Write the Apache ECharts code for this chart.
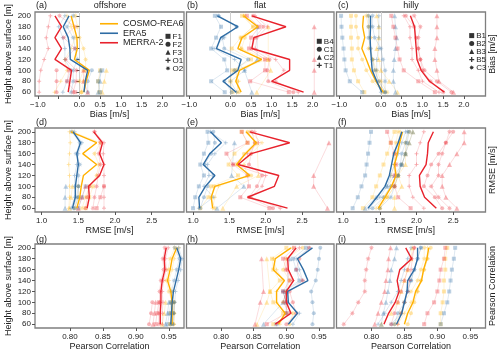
<!DOCTYPE html>
<html>
<head>
<meta charset="utf-8">
<script src="https://cdn.jsdelivr.net/npm/echarts@6/dist/echarts.min.js"></script>
<style>
  html, body { margin: 0; padding: 0; background: #fff; }
  #chart { width: 500px; height: 355px; }
</style>
</head>
<body>
<div id="chart"></div>
<script>
// heights of the profiles, bottom -> top
var heights = [60, 80, 100, 120, 140, 160, 180, 200];
var models = ['COSMO-REA6', 'ERA5', 'MERRA-2'];
var offshoreStations = ['F1', 'F2', 'F3', 'O1', 'O2'];
var flatStations = ['B4', 'C1', 'C2', 'T1'];
var hillyStations = ['B1', 'B2', 'B3', 'B5', 'C3'];
var biasTicks = [-1, -0.5, 0, 0.5, 1, 1.5, 2];
var biasLabels = [-1, 0, 0.5, 1, 1.5, 2];
var rmseTicks = [1, 1.5, 2, 2.5];
var corrTicks = [0.8, 0.85, 0.9, 0.95];

// mean profiles (60 m -> 200 m), order: COSMO-REA6, ERA5, MERRA-2
var biasOffshoreMean = [
  [0.11, 0.16, 0.24, -0.12, -0.05, -0.06, -0.13, -0.2],
  [0.11, 0.14, 0.2, -0.22, -0.23, -0.27, -0.39, -0.25],
  [-0.27, -0.23, -0.19, -0.59, -0.43, -0.59, -0.43, -0.59]
];
var biasFlatMean = [
  [0.26, 0.13, 0.22, 0.76, 0.18, 0.28, 0.67, 0.32],
  [0.14, -0.18, 0.18, 0.26, -0.34, -0.24, 0.18, -0.32],
  [1.78, 1.0, 1.44, 1.44, 0.52, 0.57, 1.35, 0.52]
];
var biasHillyMean = [
  [0.06, -0.12, -0.25, -0.35, -0.46, -0.39, -0.44, -0.42],
  [0.02, -0.1, -0.21, -0.23, -0.25, -0.26, -0.25, -0.25],
  [1.53, 1.17, 0.97, 0.87, 0.85, 0.83, 0.81, 0.71]
];
var rmseOffshoreMean = [
  [1.48, 1.52, 1.54, 1.57, 1.75, 1.56, 1.75, 1.4],
  [1.42, 1.46, 1.46, 1.48, 1.5, 1.48, 1.53, 1.43],
  [1.62, 1.65, 1.64, 1.79, 1.85, 1.79, 1.83, 1.71]
];
var rmseFlatMean = [
  [1.27, 1.25, 1.3, 1.78, 1.6, 1.72, 1.87, 1.73],
  [1.09, 1.08, 1.17, 1.3, 1.14, 1.23, 1.39, 1.24],
  [2.3, 1.75, 2.12, 2.18, 1.62, 1.8, 2.33, 1.78]
];
var rmseHillyMean = [
  [1.48, 1.57, 1.66, 1.72, 1.7, 1.74, 1.77, 1.81],
  [1.34, 1.46, 1.57, 1.63, 1.66, 1.69, 1.75, 1.8],
  [2.27, 2.11, 2.05, 2.04, 2.13, 2.15, 2.16, 2.23]
];
var corrOffshoreMean = [
  [0.955, 0.955, 0.955, 0.953, 0.948, 0.952, 0.955, 0.962],
  [0.953, 0.954, 0.955, 0.957, 0.961, 0.965, 0.968, 0.962],
  [0.937, 0.937, 0.938, 0.938, 0.94, 0.944, 0.943, 0.946]
];
var corrFlatMean = [
  [0.888, 0.898, 0.885, 0.885, 0.897, 0.88, 0.883, 0.907],
  [0.903, 0.917, 0.903, 0.902, 0.933, 0.926, 0.917, 0.94],
  [0.883, 0.907, 0.9, 0.9, 0.911, 0.903, 0.902, 0.915]
];
var corrHillyMean = [
  [0.85, 0.855, 0.863, 0.867, 0.876, 0.879, 0.884, 0.887],
  [0.838, 0.846, 0.85, 0.854, 0.855, 0.865, 0.87, 0.87],
  [0.819, 0.826, 0.836, 0.842, 0.839, 0.843, 0.861, 0.852]
];

// single stations (same order of models, stations as in the legends, null = no measurement)
var biasOffshoreStations = [
  [[0.48, 0.45, 0.5], [0.05, 0.0, 0.1], [0.55, 0.6, 0.65],
   [-0.6, -0.45, -0.3, -0.35, -0.2, -0.1, -0.2, -0.3], [0.05, 0.1, 0.15, 0.15, 0.1, 0.0, -0.05, -0.1]],
  [[0.5, 0.45, 0.55], [0.2, 0.2, 0.3], [0.45, 0.5, 0.5],
   [-0.4, -0.3, -0.2, -0.35, -0.35, -0.4, -0.5, -0.35], [-0.2, -0.15, -0.15, -0.05, -0.1, -0.15, -0.3, -0.15]],
  [[-0.1, -0.3, -0.25], [-0.55, -0.55, -0.55], [0.2, 0.1, 0.1],
   [-0.97, -0.97, -0.93, -0.85, -0.75, -0.8, -0.75, -0.7], [-0.15, -0.08, -0.07, -0.33, -0.11, -0.38, -0.11, -0.48]]
];
var biasFlatStations = [
  [[0.05, 0.0, 0.05, 0.5, 0.03, 0.25, 0.55, 0.28], [0.2, 0.16, 0.15, 0.72, 0.27, 0.35, 0.64, 0.35],
   [0.64, null, 0.98, 0.92, null, null, 0.92, null], [0.15, 0.2, 0.1, 0.9, 0.25, 0.25, 0.55, 0.32]],
  [[-0.14, -0.47, -0.08, -0.15, -0.47, -0.35, -0.23, -0.38], [0.03, -0.15, 0.1, 0.43, -0.15, -0.2, 0.15, -0.3],
   [0.52, null, 0.34, 0.65, null, null, 0.65, null], [0.15, 0.0, 0.35, 0.1, -0.4, -0.15, 0.15, -0.28]],
  [[1.42, 0.48, 0.84, 0.84, 0.45, 0.5, 0.7, 0.4], [1.53, 0.92, 0.9, 0.95, 0.52, 0.6, 0.8, 0.55],
   [2.04, null, 2.04, 2.04, null, null, 2.04, null], [1.65, 1.1, 1.3, 1.1, 0.6, 0.65, 0.9, 0.6]]
];
var biasHillyStations = [
  [[-0.4, -0.55, -0.65, -0.7, -0.7, -0.72, -0.72, -0.72], [0.05, -0.2, -0.35, -0.45, -0.55, -0.55, -0.6, -0.6],
   [0.4, 0.2, 0.0, -0.05, -0.1, -0.05, -0.05, -0.1], [0.1, -0.05, -0.15, -0.2, -0.25, -0.25, -0.25, -0.3],
   [0.15, 0.0, -0.1, -0.2, -0.3, -0.25, -0.3, -0.35]],
  [[-0.45, -0.75, -0.85, -0.88, -0.9, -0.93, -0.95, -0.96], [0.1, -0.05, -0.15, -0.2, -0.25, -0.3, -0.3, -0.3],
   [0.35, 0.3, 0.3, 0.32, 0.35, 0.38, 0.35, 0.33], [0.0, -0.1, -0.1, -0.1, -0.05, -0.05, -0.05, -0.05],
   [0.1, 0.1, 0.1, 0.05, 0.0, -0.15, -0.2, -0.2]],
  [[1.3, 0.9, 0.55, 0.45, 0.4, 0.35, 0.3, 0.25], [1.7, 1.35, 1.05, 0.95, 0.9, 0.85, 0.8, 0.6],
   [1.75, 1.4, 1.35, 1.3, 1.3, 1.35, 1.35, 1.35], [1.4, 1.0, 0.9, 0.75, 0.75, 0.7, 0.7, 0.55],
   [1.5, 1.2, 1.0, 0.95, 0.9, 0.9, 0.95, 0.8]]
];
var rmseOffshoreStations = [
  [[1.6, 1.65, 1.7], [1.45, 1.5, 1.5], [1.38, 1.4, 1.42],
   [1.37, 1.38, 1.38, 1.38, 1.37, 1.38, 1.39, 1.38], [1.55, 1.6, 1.65, 1.75, 1.78, 1.72, 1.8, 1.42]],
  [[1.5, 1.55, 1.6], [1.45, 1.5, 1.5], [1.32, 1.32, 1.33],
   [1.4, 1.45, 1.45, 1.45, 1.48, 1.5, 1.55, 1.45], [1.43, 1.48, 1.5, 1.5, 1.52, 1.47, 1.52, 1.41]],
  [[1.75, 1.8, 1.85], [1.6, 1.62, 1.65], [1.5, 1.55, 1.6],
   [1.85, 1.85, 1.85, 1.85, 1.85, 1.84, 1.85, 1.72], [1.7, 1.72, 1.75, 1.77, 1.8, 1.78, 1.8, 1.72]]
];
var rmseFlatStations = [
  [[1.1, 1.21, 1.25, 1.62, 1.49, 1.57, 1.75, 1.67], [1.3, 1.25, 1.29, 1.8, 1.6, 1.7, 1.85, 1.75],
   [1.41, null, 1.6, 1.9, null, null, 1.88, null], [1.27, 1.3, 1.35, 1.75, 1.7, 1.8, 1.95, 1.78]],
  [[1.0, 1.03, 1.08, 1.15, 1.1, 1.15, 1.21, 1.2], [1.1, 1.15, 1.2, 1.28, 1.16, 1.25, 1.3, 1.28],
   [1.33, null, 1.7, 1.53, null, null, 1.57, null], [1.08, 1.28, 1.15, 1.22, 1.2, 1.3, 1.45, 1.24]],
  [[2.05, 1.65, 1.77, 1.75, 1.55, 1.46, 1.75, 1.67], [2.1, 1.77, 1.88, 1.95, 1.77, 1.8, 1.85, 1.81],
   [2.85, null, 2.66, 2.66, null, null, 2.87, null], [2.2, 1.8, 1.95, 2.0, 1.55, 1.75, 1.9, 1.85]]
];
var rmseHillyStations = [
  [[1.27, 1.4, 1.45, 1.5, 1.55, 1.6, 1.65, 1.7], [1.5, 1.6, 1.7, 1.75, 1.8, 1.85, 1.85, 1.9],
   [1.7, 1.7, 1.8, 1.75, 1.85, 1.85, 1.9, 1.95], [1.45, 1.55, 1.65, 1.65, 1.7, 1.72, 1.75, 1.78],
   [1.5, 1.6, 1.7, 1.75, 1.7, 1.7, 1.72, 1.75]],
  [[1.13, 1.2, 1.25, 1.3, 1.32, 1.34, 1.36, 1.38], [1.4, 1.55, 1.65, 1.75, 1.8, 1.85, 1.87, 1.9],
   [1.3, 1.45, 1.6, 1.7, 1.8, 1.85, 1.9, 1.95], [1.35, 1.5, 1.6, 1.65, 1.7, 1.75, 1.8, 1.85],
   [1.5, 1.65, 1.7, 1.75, 1.78, 1.8, 1.85, 1.88]],
  [[1.92, 1.75, 1.7, 1.7, 1.72, 1.7, 1.65, 1.6], [2.35, 2.25, 2.1, 2.15, 2.2, 2.3, 2.4, 2.5],
   [2.55, 2.4, 2.35, 2.35, 2.45, 2.55, 2.65, 2.65], [2.1, 1.95, 1.9, 1.9, 2.0, 2.0, 2.05, 2.1],
   [2.45, 2.3, 2.2, 2.3, 2.3, 2.35, 2.4, 2.45]]
];
var corrOffshoreStations = [
  [[0.952, 0.953, 0.954], [0.957, 0.958, 0.958], [0.94, 0.943, 0.945],
   [0.958, 0.958, 0.958, 0.956, 0.95, 0.955, 0.958, 0.965], [0.953, 0.954, 0.955, 0.95, 0.946, 0.949, 0.952, 0.959]],
  [[0.948, 0.951, 0.953], [0.955, 0.957, 0.958], [0.945, 0.948, 0.95],
   [0.957, 0.958, 0.959, 0.96, 0.964, 0.968, 0.97, 0.965], [0.953, 0.955, 0.955, 0.954, 0.958, 0.962, 0.966, 0.959]],
  [[0.93, 0.932, 0.935], [0.92, 0.923, 0.925], [0.926, 0.928, 0.93],
   [0.94, 0.94, 0.941, 0.94, 0.942, 0.946, 0.945, 0.949], [0.935, 0.935, 0.936, 0.936, 0.938, 0.942, 0.941, 0.944]]
];
var corrFlatStations = [
  [[0.88, 0.895, 0.88, 0.875, 0.89, 0.88, 0.878, 0.9], [0.905, 0.91, 0.895, 0.9, 0.905, 0.895, 0.9, 0.925],
   [0.855, null, 0.87, 0.875, null, null, 0.87, null], [0.89, 0.9, 0.885, 0.885, 0.895, 0.885, 0.88, 0.91]],
  [[0.885, 0.9, 0.9, 0.895, 0.92, 0.915, 0.91, 0.93], [0.94, 0.942, 0.94, 0.938, 0.945, 0.948, 0.95, 0.952],
   [0.865, null, 0.895, 0.9, null, null, 0.905, null], [0.91, 0.92, 0.9, 0.895, 0.925, 0.92, 0.915, 0.935]],
  [[0.87, 0.9, 0.9, 0.895, 0.905, 0.9, 0.895, 0.912], [0.9, 0.915, 0.91, 0.905, 0.925, 0.915, 0.92, 0.935],
   [0.852, null, 0.86, 0.865, null, null, 0.862, null], [0.885, 0.905, 0.895, 0.9, 0.91, 0.9, 0.9, 0.92]]
];
var corrHillyStations = [
  [[0.905, 0.905, 0.908, 0.91, 0.91, 0.912, 0.912, 0.915], [0.855, 0.86, 0.865, 0.87, 0.875, 0.88, 0.885, 0.89],
   [0.815, 0.83, 0.84, 0.845, 0.85, 0.855, 0.86, 0.862], [0.84, 0.85, 0.86, 0.87, 0.875, 0.88, 0.885, 0.885],
   [0.835, 0.845, 0.85, 0.86, 0.87, 0.875, 0.88, 0.88]],
  [[0.905, 0.91, 0.915, 0.918, 0.92, 0.922, 0.925, 0.927], [0.835, 0.84, 0.85, 0.855, 0.86, 0.865, 0.87, 0.875],
   [0.815, 0.818, 0.822, 0.825, 0.828, 0.83, 0.835, 0.838], [0.81, 0.82, 0.83, 0.84, 0.845, 0.85, 0.855, 0.86],
   [0.83, 0.845, 0.85, 0.855, 0.86, 0.865, 0.87, 0.875]],
  [[0.88, 0.885, 0.895, 0.9, 0.903, 0.905, 0.91, 0.912], [0.83, 0.835, 0.84, 0.845, 0.85, 0.855, 0.86, 0.865],
   [0.805, 0.81, 0.815, 0.82, 0.822, 0.825, 0.826, 0.829], [0.84, 0.845, 0.85, 0.855, 0.858, 0.86, 0.862, 0.865],
   [0.758, 0.771, 0.78, 0.79, 0.79, 0.792, 0.795, 0.8]]
];

(function () {
  var chart = echarts.init(document.getElementById('chart'), null, { renderer: 'canvas' });
  var colors = ['#FFB000', '#2E6CA4', '#E8222C'];
  var font = 'Liberation Sans';
  var frame = '#7f7f7f';

  // marker shapes
  var plus = 'path://M3,0H5V3H8V5H5V8H3V5H0V3H3Z';
  var star = (function () {
    var pts = [];
    for (var i = 0; i < 16; i++) {
      var r = i % 2 === 0 ? 10 : 5;
      var a = i * Math.PI / 8 - Math.PI / 2;
      pts.push((10 + r * Math.cos(a)).toFixed(2) + ',' + (10 + r * Math.sin(a)).toFixed(2));
    }
    return 'path://M' + pts.join('L') + 'Z';
  })();
  var symOff = ['rect', 'circle', 'triangle', plus, star];
  var symFlat = ['rect', 'circle', 'triangle', plus];

  var lefts = [35, 186.5, 336.5];
  var widths = [149, 147.5, 149];
  var tops = [12, 128, 244];

  var rows = [
    { kind: 'bias', mean: [biasOffshoreMean, biasFlatMean, biasHillyMean],
      st: [biasOffshoreStations, biasFlatStations, biasHillyStations] },
    { kind: 'rmse', mean: [rmseOffshoreMean, rmseFlatMean, rmseHillyMean],
      st: [rmseOffshoreStations, rmseFlatStations, rmseHillyStations] },
    { kind: 'corr', mean: [corrOffshoreMean, corrFlatMean, corrHillyMean],
      st: [corrOffshoreStations, corrFlatStations, corrHillyStations] }
  ];
  var siteNames = [offshoreStations, flatStations, hillyStations];
  var siteSyms = [symOff, symFlat, symOff];
  var rightNames = ['Bias [m/s]', 'RMSE [m/s]', 'Pearson Correlation'];

  var grids = [], xAxes = [], yAxes = [], series = [];

  function fmtMinus(v) { return v.toFixed(1).replace('-', '\u2212'); }

  rows.forEach(function (row, r) {
    for (var c = 0; c < 3; c++) {
      var k = r * 3 + c;
      grids.push({ left: lefts[c], top: tops[r], width: widths[c], height: 84,
        show: true, borderColor: frame, borderWidth: 1.3, backgroundColor: 'transparent' });

      var xa = { type: 'value', gridIndex: k, nameLocation: 'middle',
        nameTextStyle: { fontSize: 9, color: '#222', fontFamily: font },
        axisLine: { show: false }, splitLine: { show: false },
        axisTick: { show: true, length: 3, lineStyle: { color: '#555' } },
        axisLabel: { fontSize: 8, color: '#222', margin: 5, fontFamily: font } };
      if (row.kind === 'bias') {
        xa.min = -1.07; xa.max = 2.52; xa.name = 'Bias [m/s]'; xa.nameGap = 14;
        xa.axisTick.customValues = biasTicks;
        xa.axisLabel.customValues = biasLabels;
        xa.axisLabel.formatter = fmtMinus;
      } else if (row.kind === 'rmse') {
        xa.min = 0.91; xa.max = 2.94; xa.name = 'RMSE [m/s]'; xa.nameGap = 14;
        xa.axisTick.customValues = rmseTicks;
        xa.axisLabel.customValues = rmseTicks;
        xa.axisLabel.formatter = function (v) { return v.toFixed(1); };
      } else {
        xa.min = 0.747; xa.max = 0.973; xa.name = 'Pearson Correlation'; xa.nameGap = 13;
        xa.axisTick.customValues = corrTicks;
        xa.axisLabel.customValues = corrTicks;
        xa.axisLabel.formatter = function (v) { return v.toFixed(2); };
      }
      xAxes.push(xa);

      var ya = { type: 'value', gridIndex: k, min: 53, max: 207,
        axisLine: { show: false }, splitLine: { show: false },
        axisTick: { show: c === 0, length: 3, customValues: heights, lineStyle: { color: '#555' } },
        axisLabel: { show: c === 0, customValues: heights, fontSize: 8, color: '#222', margin: 4, fontFamily: font },
        nameTextStyle: { fontSize: 9, color: '#222', fontFamily: font } };
      if (c === 0) {
        ya.name = 'Height above surface [m]'; ya.nameLocation = 'middle'; ya.nameGap = 22; ya.nameRotate = 90;
      }
      if (c === 2) {
        ya.position = 'right'; ya.name = rightNames[r]; ya.nameLocation = 'middle';
        ya.nameGap = 3; ya.nameRotate = 90;
        ya.axisTick.show = false; ya.axisLabel.show = false;
      }
      yAxes.push(ya);

      // single stations, faint
      var st = row.st[c];
      for (var m = 0; m < 3; m++) {
        st[m].forEach(function (vals, s) {
          var pts = [];
          vals.forEach(function (v, i) { if (v !== null && v !== undefined) pts.push([v, heights[i]]); });
          var sym = siteSyms[c][s];
          series.push({
            type: 'line', name: siteNames[c][s], xAxisIndex: k, yAxisIndex: k,
            data: pts, symbol: sym,
            symbolSize: sym === 'triangle' ? 5 : (sym === star ? 5.5 : 4),
            showSymbol: true, silent: true, z: 1,
            itemStyle: { color: colors[m], opacity: 0.32 },
            lineStyle: { color: colors[m], width: 0.8, opacity: 0.2 }
          });
        });
      }
      // mean lines
      for (var m2 = 0; m2 < 3; m2++) {
        var s2 = {
          type: 'line', name: models[m2], xAxisIndex: k, yAxisIndex: k,
          data: row.mean[c][m2].map(function (v, i) { return [v, heights[i]]; }),
          symbol: 'none', silent: true, z: 3,
          itemStyle: { color: colors[m2] },
          lineStyle: { color: colors[m2], width: 1.4 }
        };
        if (row.kind === 'bias' && m2 === 0) {
          s2.markLine = { silent: true, symbol: 'none', label: { show: false },
            lineStyle: { color: '#cfcfcf', width: 1, type: 'solid' }, data: [{ xAxis: 0 }], z: 0 };
        }
        series.push(s2);
      }
    }
  });

  function stationLegend(names, syms, left, top) {
    return {
      orient: 'vertical', left: left, top: top, padding: 0, itemGap: 0, itemWidth: 5, itemHeight: 5,
      selectedMode: false,
      textStyle: { fontSize: 8, color: '#222', fontFamily: font, lineHeight: 7.5, padding: [0, 0, 0, -3] },
      data: names.map(function (n, i) {
        return { name: n, icon: syms[i], itemStyle: { color: '#333', opacity: 1, borderWidth: 0 } };
      })
    };
  }

  var titles = [
    ['(a)', 36, 6], ['(b)', 187, 6], ['(c)', 338, 6],
    ['(d)', 36, 123], ['(e)', 187, 123], ['(f)', 338, 123],
    ['(g)', 36, 240], ['(h)', 187, 240], ['(i)', 338, 240]
  ];
  var graphics = titles.map(function (t) {
    return { type: 'text', x: t[1], y: t[2], silent: true,
      style: { text: t[0], font: '9px ' + font, fill: '#222', verticalAlign: 'middle' } };
  });
  [['offshore', 110], ['flat', 260], ['hilly', 411]].forEach(function (t) {
    graphics.push({ type: 'text', x: t[1], y: 6, silent: true,
      style: { text: t[0], font: '9px ' + font, fill: '#222', align: 'center', verticalAlign: 'middle' } });
  });

  var option = {
    animation: false,
    backgroundColor: '#fff',
    textStyle: { fontFamily: font },
    grid: grids,
    xAxis: xAxes,
    yAxis: yAxes,
    legend: [
      { orient: 'vertical', left: 100, top: 19, padding: 0, itemGap: 0, itemWidth: 18, itemHeight: 1.6,
        icon: 'rect', selectedMode: false,
        textStyle: { fontSize: 9, color: '#222', fontFamily: font, lineHeight: 9.5 },
        data: models },
      stationLegend(offshoreStations, symOff, 165.5, 32.3),
      stationLegend(flatStations, symFlat, 316.8, 37.3),
      stationLegend(hillyStations, symOff, 469.2, 31.6)
    ],
    graphic: graphics,
    series: series
  };
  chart.setOption(option);
})();
</script>
</body>
</html>
